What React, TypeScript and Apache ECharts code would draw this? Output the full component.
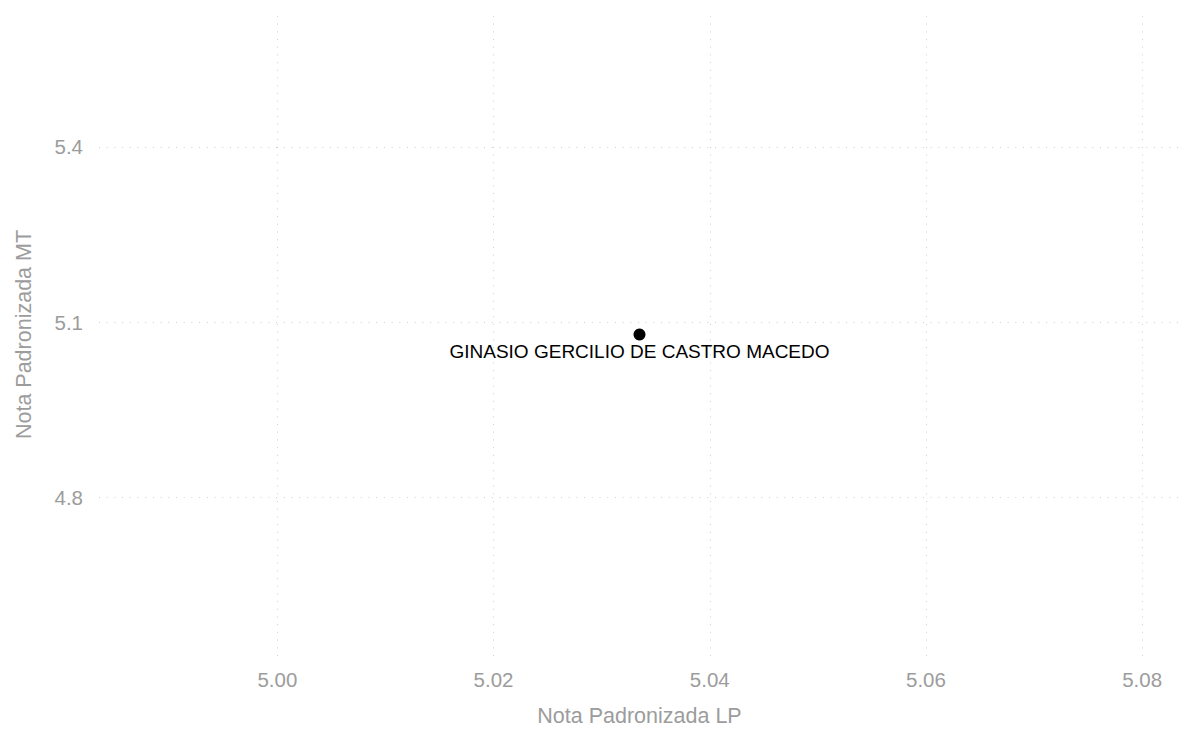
import React, { useEffect, useRef } from "react";
import * as echarts from "echarts";

const schoolNames = ["GINASIO GERCILIO DE CASTRO MACEDO"];
const notaLP = [5.0335];
const notaMT = [5.079];
const xTicks = [5.0, 5.02, 5.04, 5.06, 5.08];
const yTicks = [4.8, 5.1, 5.4];
const xRange = [4.9835, 5.0835];
const yRange = [4.529, 5.629];

export default function App() {
  const ref = useRef<HTMLDivElement>(null);
  useEffect(() => {
    if (!ref.current) return;
    const chart = echarts.init(ref.current, null, { renderer: "svg" });
    const font = "'Liberation Sans', Helvetica, Arial, sans-serif";
    const gridLine = { color: "#cfcfcf", width: 1, type: [1, 6.7] as any };
    const tickColor = "#9c9c9c";
    chart.setOption({
      animation: false,
      backgroundColor: "#ffffff",
      grid: { left: 99, right: 12, top: 13, bottom: 60, containLabel: false },
      xAxis: {
        type: "value",
        min: xRange[0],
        max: xRange[1],
        name: "Nota Padronizada LP",
        nameLocation: "middle",
        nameGap: 49,
        nameTextStyle: { color: tickColor, fontSize: 21.5, fontFamily: font },
        axisLine: { show: false },
        axisTick: { show: false },
        splitLine: { show: false },
        axisLabel: {
          customValues: xTicks,
          formatter: (v: number) => v.toFixed(2),
          color: tickColor,
          fontSize: 20.5,
          fontFamily: font,
          margin: 13,
        },
      },
      yAxis: {
        type: "value",
        min: yRange[0],
        max: yRange[1],
        name: "Nota Padronizada MT",
        nameLocation: "middle",
        nameGap: 64,
        nameTextStyle: { color: tickColor, fontSize: 21.5, fontFamily: font },
        axisLine: { show: false },
        axisTick: { show: false },
        splitLine: { show: false },
        axisLabel: {
          customValues: yTicks,
          formatter: (v: number) => v.toFixed(1),
          color: tickColor,
          fontSize: 20.5,
          fontFamily: font,
          margin: 16,
        },
      },
      series: [
        {
          type: "scatter",
          symbolSize: 12,
          itemStyle: { color: "#000000", opacity: 1 },
          data: notaLP.map((x, i) => ({ value: [x, notaMT[i]], name: schoolNames[i] })),
          label: {
            show: true,
            position: "bottom",
            distance: 1,
            formatter: (p: any) => p.name,
            color: "#000000",
            fontSize: 19,
            fontFamily: font,
          },
          markLine: {
            silent: true,
            symbol: "none",
            label: { show: false },
            lineStyle: gridLine,
            z: 0,
            data: [
              ...xTicks.map((v) => ({ xAxis: v })),
              ...yTicks.map((v) => ({ yAxis: v })),
            ],
          },
        },
      ],
    });
    return () => chart.dispose();
  }, []);
  return (
    <div
      ref={ref}
      style={{ position: "fixed", left: 0, top: 0, width: 1192, height: 732 }}
    />
  );
}
